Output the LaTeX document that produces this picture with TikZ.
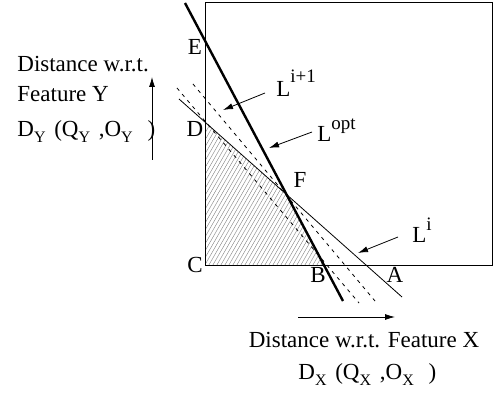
\documentclass[tikz,border=0pt]{standalone}
\usepackage{fontspec}
\setmainfont{Liberation Serif}
\usetikzlibrary{arrows.meta}
\newcommand{\lsub}[1]{\raisebox{-6pt}{\fontsize{16}{16}\selectfont #1}}
\newcommand{\lsup}[2][12pt]{\raisebox{#1}{\fontsize{19}{19}\selectfont #2}}
\tikzset{
  ptlabel/.style={font=\fontsize{23}{23}\selectfont, inner sep=0pt, anchor=base},
  axtext/.style={font=\fontsize{23}{23}\selectfont, inner sep=0pt},
  lname/.style={font=\fontsize{23}{23}\selectfont, inner sep=0pt, anchor=base west},
  pointer/.style={-{Latex[length=10pt,width=6pt]}, line width=0.8pt},
  guide/.style={line width=0.8pt, dash pattern=on 3.5pt off 4.5pt},
  hatch/.style={black!50, line width=0.4pt},
}

\begin{document}
\begin{tikzpicture}[x=1pt, y=-1pt, line width=0.8pt]
        \useasboundingbox (0,0) rectangle (493,395);
        \coordinate (C) at (205,265);
        \coordinate (D) at (205,122);
        \coordinate (F) at (287,195);
        \coordinate (B) at (324,265);
        \coordinate (boxtr) at (492,2);
        \begin{scope}
          \clip (C) -- (D) -- (F) -- (B) -- cycle;
          \foreach \s in {110,114,...,330}
            \draw[hatch] (\s,270) -- ++(90,-156);
        \end{scope}
        \draw (C |- boxtr) rectangle (boxtr |- C);
        \draw[line width=2.4pt] (185,3) coordinate (opttop) -- (343,301) coordinate (optend);
        \draw (179,99) coordinate (itop) -- (402,297) coordinate (iend);
        \draw[guide] (177,88) coordinate (atop) -- (359,303) coordinate (aend);
        \draw[guide] (193,84) coordinate (btop) -- (375,301) coordinate (bend);

        \node[ptlabel] (labE) at (195,55) {E};
        \node[ptlabel] (labD) at (195,137) {D};
        \node[ptlabel] (labC) at (195,273) {C};
        \node[ptlabel] (labB) at (318,283) {B};
        \node[ptlabel] (labA) at (395,283) {A};
        \node[ptlabel] (labF) at (300,188) {F};

        \node[lname] (lnext) at (276,97) {L\lsup[14pt]{i+1}};
        \node[lname] (lopt) at (317,142) {L\lsup{opt}};
        \node[lname] (lcur) at (412,243) {L\lsup{i}};
        \draw[pointer] (265,93) coordinate (nextfrom) -- (223,110) coordinate (nextto);
        \draw[pointer] (312,132) coordinate (optfrom) -- (269,148) coordinate (optto);
        \draw[pointer] (398,237) coordinate (curfrom) -- (358,253) coordinate (curto);

        \node[axtext, anchor=base west] (ylab1) at (17,72) {Distance w.r.t.};
        \node[axtext, anchor=base west] (ylab2) at (17,102) {Feature Y};
        \node[axtext, anchor=base west] (ylab3) at (17,137)
          {D\lsub{Y}\hspace{3pt} (Q\lsub{Y}\hspace{3pt} ,O\lsub{Y}\hspace{9pt} )};
        \draw[pointer] (152,160) coordinate (yfrom) -- (152,77) coordinate (yto);

        \node[axtext, anchor=base] (xlab1) at (364,348) {Distance w.r.t. Feature X};
        \node[axtext, anchor=base west] (xlab2) at (298,380)
          {D\lsub{X}\hspace{3pt} (Q\lsub{X}\hspace{3pt} ,O\lsub{X}\hspace{9pt} )};
        \draw[pointer] (298,317) coordinate (xfrom) -- (395,317) coordinate (xto);
      \end{tikzpicture}
\end{document}
